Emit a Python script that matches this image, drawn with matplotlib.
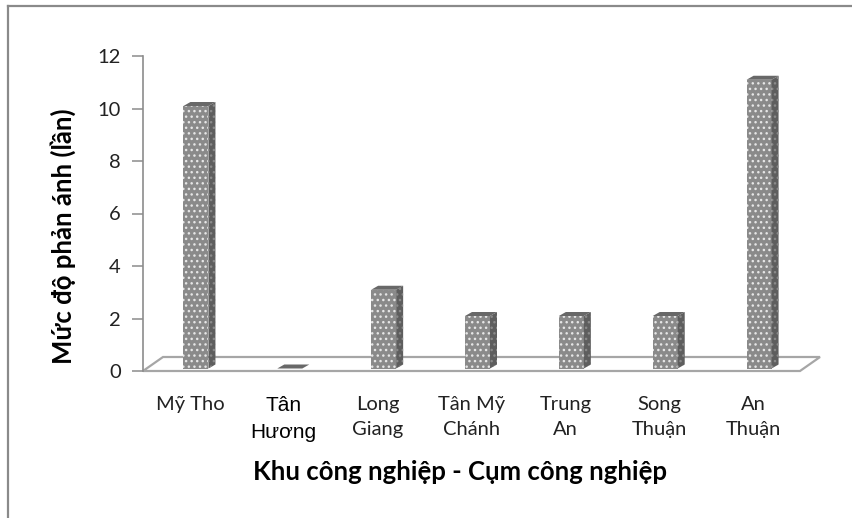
import matplotlib
matplotlib.use("Agg")
import matplotlib.pyplot as plt
from matplotlib.patches import Polygon
from matplotlib.lines import Line2D

# Số lần phản ánh theo từng khu / cụm công nghiệp
categories = ["Mỹ Tho", "Tân\nHương", "Long\nGiang", "Tân Mỹ\nChánh",
              "Trung\nAn", "Song\nThuận", "An\nThuận"]
values = [10, 0, 3, 2, 2, 2, 11]
y_ticks = [0, 2, 4, 6, 8, 10, 12]

FONT = ["Lato", "DejaVu Sans"]
W, H = 853, 518

fig = plt.figure(figsize=(W / 100, H / 100), dpi=100)
fig.patch.set_facecolor("white")

# plot area in pixels: x from 143 to 800, y=0 at 371, y=12 at 56
left, right, bottom, top = 143, 800, 371, 56
ax = fig.add_axes([left / W, 1 - bottom / H, (right - left) / W, (bottom - top) / H])
ax.set_xlim(-0.5, len(categories) - 0.5)
ax.set_ylim(0, 12)
ax.patch.set_alpha(0)

px_x = (right - left) / len(categories)   # pixels per category
px_y = (bottom - top) / 12                 # pixels per unit

# floor of the 3d chart
fdx, fdy = 20 / px_x, 14 / px_y
x0, x1 = -0.5, len(categories) - 0.5
floor = Polygon([(x0, 0), (x1, 0), (x1 + fdx, fdy), (x0 + fdx, fdy)],
                closed=True, facecolor="white", edgecolor="#a6a6a6",
                lw=1.6, clip_on=False, zorder=1)
ax.add_patch(floor)

# 3d bars: front face, right side and top
bw = 25 / px_x
ox = 6 / px_x
oy = 2.5 / px_y
dx, dy = 7 / px_x, 4 / px_y
for i, v in enumerate(values):
    xl = i - bw / 2 + ox
    xr = xl + bw
    yb = oy
    yt = v + oy
    front = Polygon([(xl, yb), (xr, yb), (xr, yt), (xl, yt)], closed=True,
                    facecolor="#8a8a8a", edgecolor="#e6e6e6", hatch="...",
                    lw=0, clip_on=False, zorder=3)
    side = Polygon([(xr, yb), (xr + dx, yb + dy), (xr + dx, yt + dy), (xr, yt)],
                   closed=True, facecolor="#5e5e5e", edgecolor="#8a8a8a",
                   hatch="...", lw=0, clip_on=False, zorder=3)
    topf = Polygon([(xl, yt), (xr, yt), (xr + dx, yt + dy), (xl + dx, yt + dy)],
                   closed=True, facecolor="#686868", edgecolor="none",
                   clip_on=False, zorder=4)
    for p in (front, side, topf):
        ax.add_patch(p)

# axes styling
for s in ("top", "right", "bottom"):
    ax.spines[s].set_visible(False)
ax.spines["left"].set_color("#8c8c8c")
ax.spines["left"].set_linewidth(1.2)
ax.set_yticks(y_ticks)
ax.set_yticklabels([str(t) for t in y_ticks], family=FONT, fontsize=14.5,
                   color="#222222")
ax.tick_params(axis="y", direction="out", length=8, width=1.1,
               color="#8c8c8c", pad=8)

ax.set_xticks(range(len(categories)))
ax.set_xticklabels(categories, family=FONT, fontsize=14.5, color="#222222",
                   linespacing=1.6)
ax.tick_params(axis="x", length=0, pad=18)
ax.get_xticklabels()[1].set_family(["Liberation Sans", "DejaVu Sans"])
ax.get_xticklabels()[1].set_fontsize(15)
ax.get_xticklabels()[1].set_color("#000000")
ax.get_xticklabels()[1].set_linespacing(1.5)

ax.set_ylabel("Mức độ phản ánh (lần)", family=FONT, fontsize=18.5,
              fontweight="bold")
ax.yaxis.set_label_coords(63 / W, 1 - 236 / H, transform=fig.transFigure)
ax.set_xlabel("Khu công nghiệp - Cụm công nghiệp", family=FONT,
              fontsize=18.5, fontweight="bold")
ax.xaxis.set_label_coords(460 / W, 1 - 472 / H, transform=fig.transFigure)
ax.xaxis.label.set_va("center")
ax.yaxis.label.set_va("center")

# chart border (left and top edges)
fig.add_artist(Line2D([8 / W, 8 / W], [0, 1 - 6 / H], color="#8a8a8a",
                      lw=1.6, transform=fig.transFigure))
fig.add_artist(Line2D([8 / W, 1], [1 - 6 / H, 1 - 6 / H], color="#8a8a8a",
                      lw=1.6, transform=fig.transFigure))

fig.savefig("out.png", dpi=100)
